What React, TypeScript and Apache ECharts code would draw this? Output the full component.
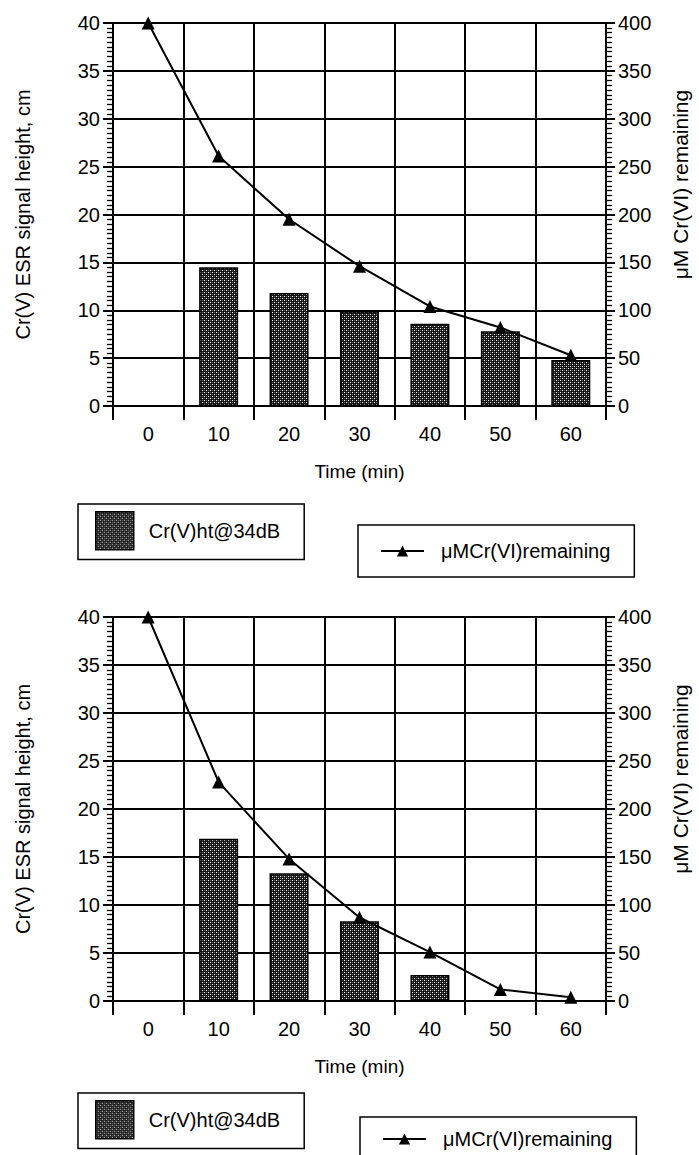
import React, { useEffect, useRef } from "react";
import * as echarts from "echarts";

const categories = ["0", "10", "20", "30", "40", "50", "60"];
const crVTop = [0, 14.5, 11.8, 9.9, 8.6, 7.8, 4.8];
const crVITop = [400, 261, 195, 146, 104, 82, 53];
const crVBottom = [0, 16.9, 13.3, 8.3, 2.7, 0, 0];
const crVIBottom = [400, 228, 148, 87, 51, 12, 4];

const leftMax = 40;
const leftInterval = 5;
const rightMax = 400;
const rightInterval = 50;
const minorSplits = 10;

const barName = "Cr(V)ht@34dB";
const lineName = "μMCr(VI)remaining";
const xName = "Time (min)";
const leftName = "Cr(V) ESR signal height, cm";
const rightName = "μM Cr(VI) remaining";

function makePattern() {
  const c = document.createElement("canvas");
  c.width = 4;
  c.height = 4;
  const ctx = c.getContext("2d")!;
  ctx.fillStyle = "#151515";
  ctx.fillRect(0, 0, 4, 4);
  ctx.fillStyle = "#ffffff";
  ctx.fillRect(0, 0, 1, 1);
  ctx.fillRect(2, 2, 1, 1);
  ctx.fillStyle = "#6a6a6a";
  ctx.fillRect(2, 0, 1, 1);
  ctx.fillRect(0, 2, 1, 1);
  return { image: c, repeat: "repeat" };
}

export default function App() {
  const ref = useRef<HTMLDivElement>(null);
  useEffect(() => {
    const chart = echarts.init(ref.current!, null, { renderer: "svg" });
    const pattern = makePattern();
    const font = "'Liberation Sans', Arial, sans-serif";
    const black = "#000";
    const grids = [
      { left: 113, top: 23, width: 506, height: 383 },
      { left: 113, top: 617, width: 505, height: 384 },
    ];
    const xAxes = grids.map((_, i) => ({
      type: "category",
      gridIndex: i,
      data: categories,
      boundaryGap: true,
      name: xName,
      nameLocation: "middle",
      nameGap: 56,
      nameTextStyle: { color: black, fontSize: 19, fontFamily: font },
      axisLine: { show: true, onZero: false, lineStyle: { color: black, width: 2 } },
      axisTick: { show: true, interval: 0, length: 14, lineStyle: { color: black, width: 2 } },
      axisLabel: { interval: 0, margin: 18, color: black, fontSize: 20, fontFamily: font },
      splitLine: { show: true, interval: 0, lineStyle: { color: black, width: 2 } },
    }));
    const yAxes: any[] = [];
    grids.forEach((_, i) => {
      yAxes.push({
        type: "value",
        gridIndex: i,
        position: "left",
        min: 0,
        max: leftMax,
        interval: leftInterval,
        name: leftName,
        nameLocation: "middle",
        nameGap: 80,
        nameTextStyle: { color: black, fontSize: 20, fontFamily: font },
        axisLine: { show: true, lineStyle: { color: black, width: 2 } },
        axisTick: { show: true, length: 10, lineStyle: { color: black, width: 2 } },
        minorTick: { show: true, splitNumber: minorSplits, length: 6, lineStyle: { color: black, width: 1.3 } },
        axisLabel: { margin: 13, color: black, fontSize: 20, fontFamily: font, padding: [0, 0, 5, 0] },
        splitLine: { show: true, lineStyle: { color: black, width: 2 } },
      });
      yAxes.push({
        type: "value",
        gridIndex: i,
        position: "right",
        min: 0,
        max: rightMax,
        interval: rightInterval,
        name: rightName,
        nameLocation: "middle",
        nameGap: 64,
        nameTextStyle: { color: black, fontSize: 21, fontFamily: font, padding: [0, 0, 0, 60] },
        axisLine: { show: true, lineStyle: { color: black, width: 2 } },
        axisTick: { show: true, length: 9, lineStyle: { color: black, width: 2 } },
        minorTick: { show: true, splitNumber: minorSplits, length: 6, lineStyle: { color: black, width: 1.3 } },
        axisLabel: { margin: 12, color: black, fontSize: 20, fontFamily: font },
        splitLine: { show: false },
      });
    });
    const barStyle = { color: pattern, borderColor: black, borderWidth: 1.5 };
    const mkBar = (data: number[], i: number) => ({
      type: "bar",
      name: barName,
      xAxisIndex: i,
      yAxisIndex: i * 2,
      data,
      barWidth: 39,
      itemStyle: barStyle,
      z: 2,
    });
    const mkLine = (data: number[], i: number) => ({
      type: "line",
      name: lineName,
      xAxisIndex: i,
      yAxisIndex: i * 2 + 1,
      data,
      symbol: "triangle",
      symbolSize: 13,
      lineStyle: { color: black, width: 2 },
      itemStyle: { color: black },
      z: 3,
    });
    const legendBase = {
      orient: "horizontal",
      borderColor: black,
      borderWidth: 1.5,
      backgroundColor: "#fff",
      selectedMode: false,
      textStyle: { color: black, fontSize: 20, fontFamily: font, padding: [0, 0, 0, 10] },
    };
    const barLegend = (left: number, top: number) => ({
      ...legendBase,
      left,
      top,
      itemWidth: 38,
      itemHeight: 38,
      padding: [7, 24, 9, 17],
      data: [{ name: barName, icon: "rect", itemStyle: barStyle }],
    });
    const lineLegend = (left: number, top: number, topPad: number, bottomPad: number) => ({
      ...legendBase,
      left,
      top,
      itemWidth: 43,
      itemHeight: 14,
      padding: [topPad, 24, bottomPad, 22],
      textStyle: { ...legendBase.textStyle, padding: [0, 0, 0, 12] },
      data: [{ name: lineName }],
    });
    chart.setOption({
      animation: false,
      backgroundColor: "#fff",
      grid: grids,
      xAxis: xAxes,
      yAxis: yAxes,
      legend: [
        barLegend(78, 504),
        lineLegend(358, 525, 16, 16),
        barLegend(78, 1093),
        lineLegend(360, 1117, 12, 40),
      ],
      series: [
        mkBar(crVTop, 0),
        mkLine(crVITop, 0),
        mkBar(crVBottom, 1),
        mkLine(crVIBottom, 1),
      ],
    });
    return () => chart.dispose();
  }, []);
  return (
    <div
      ref={ref}
      style={{ position: "absolute", left: 0, top: 0, width: 699, height: 1155, background: "#fff" }}
    />
  );
}
